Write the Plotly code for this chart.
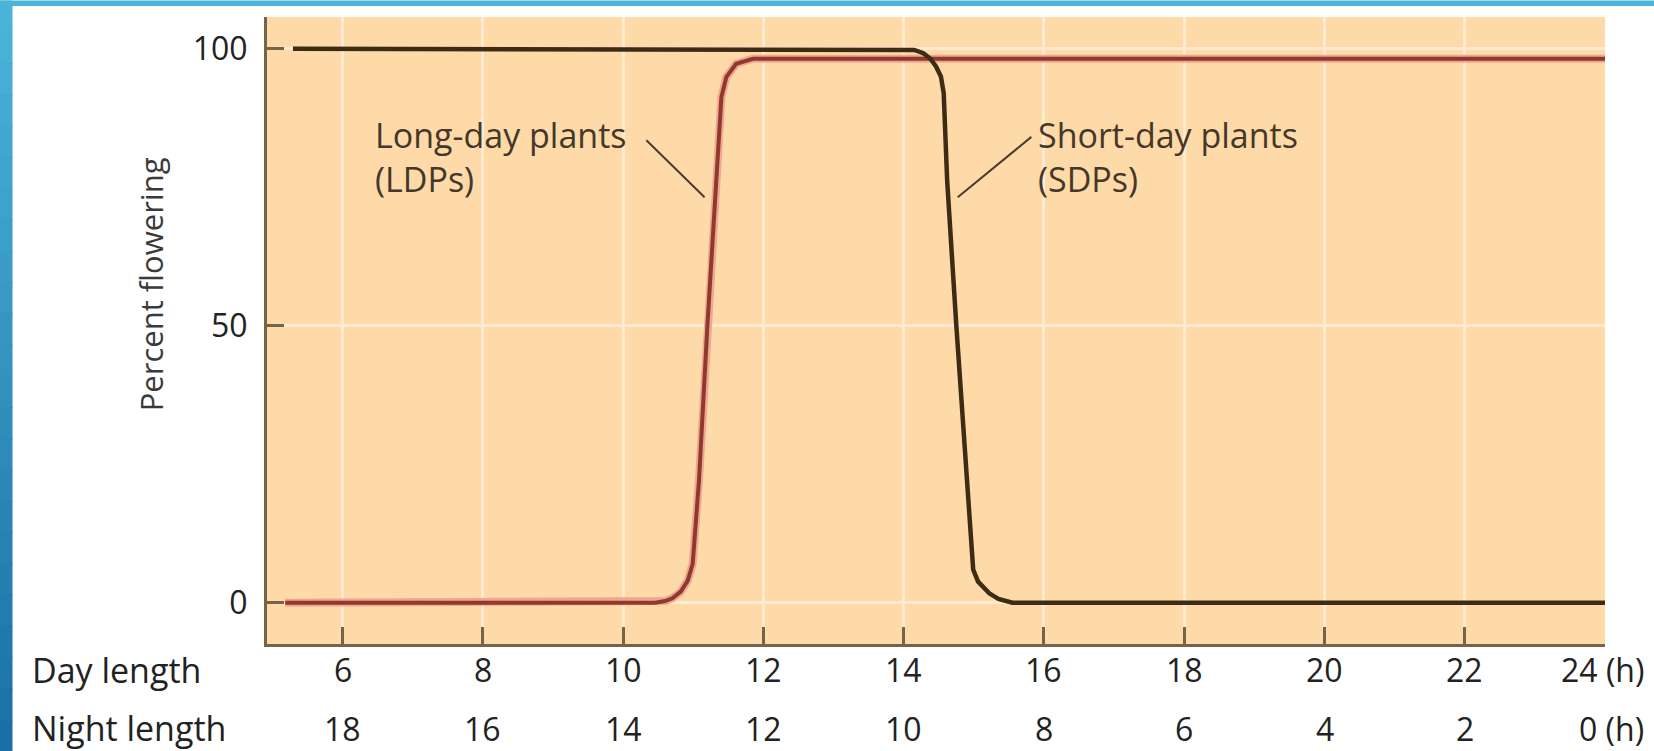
import plotly.graph_objects as go

# ---------------- data ----------------
day_ticks = [6, 8, 10, 12, 14, 16, 18, 20, 22, 24]
day_labels = ["6", "8", "10", "12", "14", "16", "18", "20", "22", "24 (h)"]
night_labels = ["18", "16", "14", "12", "10", "8", "6", "4", "2", "0 (h)"]
y_ticks = [0, 50, 100]
y_labels = ["0", "50", "100"]

ldp_x = [5.18, 10.45, 10.6, 10.7, 10.82, 10.92, 10.99, 11.08, 11.2, 11.33, 11.40,
         11.47, 11.61, 11.85, 24]
ldp_y = [0, 0, 0.3, 0.8, 2.0, 4.0, 7.0, 22, 50, 76, 91.3, 94.9, 97.3, 98.2, 98.2]

sdp_x = [5.29, 14.0, 14.15, 14.28, 14.38, 14.46, 14.53, 14.57, 14.62, 14.75, 14.91,
         14.99, 15.06, 15.14, 15.22, 15.35, 15.55, 24]
sdp_y = [100, 100, 99.8, 99.2, 98.2, 96.8, 95.0, 92, 76, 50, 22, 6, 3.8, 2.6, 1.7,
         0.7, 0, 0]

# ---------------- layout geometry ----------------
W, H = 1654, 751
L, R, T, B = 267, 49, 16.5, 107
PW, PH = W - L - R, H - T - B


def px_x(p):
    return (p - L) / PW


def px_y(p):
    return (H - B - p) / PH


FONT = "Open Sans"
AXC = "#76644a"
TXT = "#222222"
ANN = "#45372a"

fig = go.Figure()

# LDP halo + line
fig.add_trace(go.Scatter(x=ldp_x, y=ldp_y, mode="lines",
                         line=dict(color="#F0A692", width=8), hoverinfo="skip",
                         showlegend=False))
fig.add_trace(go.Scatter(x=ldp_x, y=ldp_y, mode="lines", name="Long-day plants (LDPs)",
                         line=dict(color="#8E3A2C", width=4), showlegend=False))
# SDP
fig.add_trace(go.Scatter(x=sdp_x, y=sdp_y, mode="lines", name="Short-day plants (SDPs)",
                         line=dict(color="#3E2B16", width=4.5), showlegend=False))

shapes = []
# leader lines
shapes.append(dict(type="line", xref="x", yref="y", x0=10.33, y0=83.5, x1=11.16, y1=73.2,
                   line=dict(color="#4a3b2a", width=2)))
shapes.append(dict(type="line", xref="x", yref="y", x0=15.82, y0=84.1, x1=14.77, y1=73.2,
                   line=dict(color="#4a3b2a", width=2)))

# blue frame (top band and left gradient band)
shapes.append(dict(type="rect", xref="paper", yref="paper", layer="above",
                   x0=px_x(0), x1=px_x(W), y0=px_y(0), y1=px_y(5.5),
                   fillcolor="#4BB3D8", line=dict(width=0)))
c0 = (0x4B, 0xB3, 0xD8)
c1 = (0x1A, 0x70, 0xA6)
n = 24
for i in range(n):
    t = i / (n - 1)
    col = "rgb(%d,%d,%d)" % tuple(round(a + (b - a) * t) for a, b in zip(c0, c1))
    shapes.append(dict(type="rect", xref="paper", yref="paper", layer="above",
                       x0=px_x(0), x1=px_x(12.5),
                       y0=px_y(H * i / n), y1=px_y(H * (i + 1) / n + 1),
                       fillcolor=col, line=dict(width=0)))

annotations = []
# curve labels
for txt, x in [("Long-day plants<br>(LDPs)", 6.43), ("Short-day plants<br>(SDPs)", 15.88)]:
    annotations.append(dict(x=x, y=px_y(157), xref="x", yref="paper", text=txt,
                            showarrow=False, xanchor="left", yanchor="middle", align="left",
                            font=dict(family=FONT, size=34, color=ANN)))
# day / night length rows (under the x axis ticks)
for labels, ypx in [(day_labels, 670), (night_labels, 729)]:
    for xv, lab in zip(day_ticks, labels):
        if lab.endswith("(h)"):
            annotations.append(dict(x=px_x(1646), y=px_y(ypx), xref="paper", yref="paper",
                                    text=lab, showarrow=False, xanchor="right",
                                    yanchor="middle",
                                    font=dict(family=FONT, size=32, color=TXT)))
        else:
            annotations.append(dict(x=xv, y=px_y(ypx), xref="x", yref="paper", text=lab,
                                    showarrow=False, xanchor="center", yanchor="middle",
                                    font=dict(family=FONT, size=32, color=TXT)))
# row titles
annotations.append(dict(x=px_x(30), y=px_y(670), xref="paper", yref="paper",
                        text="Day length", showarrow=False, xanchor="left", yanchor="middle",
                        font=dict(family=FONT, size=34, color=TXT)))
annotations.append(dict(x=px_x(30), y=px_y(728), xref="paper", yref="paper",
                        text="Night length", showarrow=False, xanchor="left", yanchor="middle",
                        font=dict(family=FONT, size=34, color=TXT)))
# y title
annotations.append(dict(x=px_x(151), y=px_y(284), xref="paper", yref="paper",
                        text="Percent flowering", showarrow=False, textangle=-90,
                        xanchor="center", yanchor="middle",
                        font=dict(family=FONT, size=31, color="#3a3a3a")))

fig.update_layout(
    width=W, height=H,
    margin=dict(l=L, r=R, t=T, b=B, pad=0),
    paper_bgcolor="white",
    plot_bgcolor="#FDDAA8",
    showlegend=False,
    shapes=shapes,
    annotations=annotations,
    xaxis=dict(range=[4.92, 24], tickvals=day_ticks, showticklabels=False,
               showline=True, linecolor=AXC, linewidth=3,
               ticks="inside", ticklen=17, tickwidth=3, tickcolor=AXC,
               showgrid=True, gridcolor="#FEEAD0", gridwidth=3, zeroline=False),
    yaxis=dict(range=[-7.45, 105.74], tickvals=y_ticks, ticktext=y_labels,
               showline=True, linecolor=AXC, linewidth=3,
               ticks="inside", ticklen=17, tickwidth=3, tickcolor=AXC,
               showgrid=True, gridcolor="#FEEAD0", gridwidth=3, zeroline=False,
               tickfont=dict(family=FONT, size=32, color=TXT), ticklabelstandoff=10),
)

fig.write_html("out.html", config={"displayModeBar": False},
               post_script="document.body.style.margin='0';document.body.style.overflow='hidden';")
